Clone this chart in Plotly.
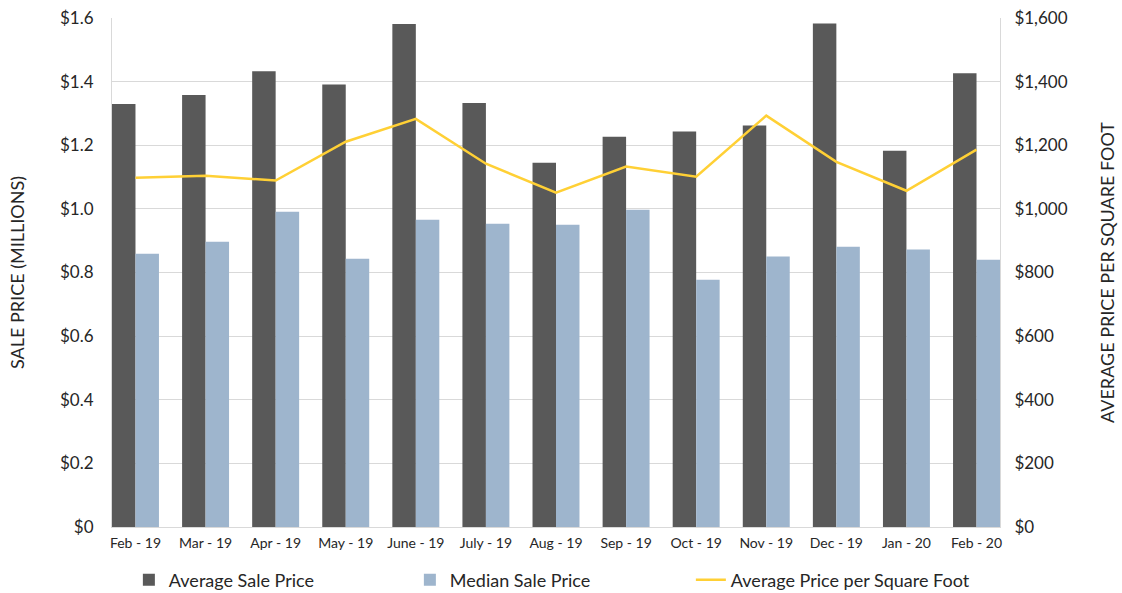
import plotly.graph_objects as go

months = ["Feb - 19", "Mar - 19", "Apr - 19", "May - 19", "June - 19", "July - 19", "Aug - 19",
          "Sep - 19", "Oct - 19", "Nov - 19", "Dec - 19", "Jan - 20", "Feb - 20"]
avg_sale = [1.330, 1.358, 1.433, 1.391, 1.581, 1.333, 1.145, 1.227, 1.243, 1.262, 1.583, 1.183, 1.426]
median_sale = [0.859, 0.897, 0.991, 0.843, 0.966, 0.953, 0.950, 0.997, 0.777, 0.850, 0.881, 0.872, 0.840]
price_sqft = [1098, 1104, 1089, 1211, 1283, 1142, 1051, 1133, 1101, 1293, 1148, 1057, 1186]

left_vals = [0, 0.2, 0.4, 0.6, 0.8, 1.0, 1.2, 1.4, 1.6]
left_text = ["$0", "$0.2", "$0.4", "$0.6", "$0.8", "$1.0", "$1.2", "$1.4", "$1.6"]
right_vals = [0, 200, 400, 600, 800, 1000, 1200, 1400, 1600]
right_text = ["$0", "$200", "$400", "$600", "$800", "$1,000", "$1,200", "$1,400", "$1,600"]

FONT = "Lato"
TXT = "#262626"
GRID = "#D9D9D9"

fig = go.Figure()
fig.add_trace(go.Bar(x=months, y=avg_sale, name="Average Sale Price",
                     marker=dict(color="#595959", line=dict(width=0))))
fig.add_trace(go.Bar(x=months, y=median_sale, name="Median Sale Price",
                     marker=dict(color="#9EB5CD", line=dict(width=0))))
fig.add_trace(go.Scatter(x=months, y=price_sqft, name="Average Price per Square Foot",
                         yaxis="y2", mode="lines",
                         line=dict(color="#FFD035", width=2.5)))

fig.update_layout(
    width=1122, height=593,
    margin=dict(l=112, r=122, t=18, b=66, autoexpand=False),
    paper_bgcolor="white", plot_bgcolor="white",
    font=dict(family=FONT, color=TXT),
    barmode="group", bargap=0.33, bargroupgap=0,
    xaxis=dict(type="category", range=[-0.335, 12.335],
               showgrid=False, showline=True, linecolor=GRID, linewidth=1,
               ticks="", tickfont=dict(size=14, color=TXT), ticklabelstandoff=3),
    yaxis=dict(range=[0, 1.6], tickvals=left_vals, ticktext=left_text,
               showgrid=True, gridcolor=GRID, gridwidth=1, zeroline=False,
               showline=True, linecolor=GRID, linewidth=1,
               tickfont=dict(size=17, color=TXT), ticklabelstandoff=14,
               title=dict(text="SALE PRICE (MILLIONS)", font=dict(size=18, color=TXT), standoff=30)),
    yaxis2=dict(range=[0, 1600], tickvals=right_vals, ticktext=right_text,
                overlaying="y", side="right", showgrid=False, zeroline=False,
                showline=True, linecolor=GRID, linewidth=1,
                tickfont=dict(size=17, color=TXT), ticklabelstandoff=10,
                title=dict(text="AVERAGE PRICE PER SQUARE FOOT", font=dict(size=18, color=TXT), standoff=34)),
    legend=dict(orientation="h", x=0.019, xanchor="left", y=-0.104, yanchor="middle",
                entrywidth=236, entrywidthmode="pixels", bgcolor="rgba(0,0,0,0)",
                font=dict(size=18, color=TXT), traceorder="normal"),
    showlegend=True,
)

fig.write_html("out.html")
